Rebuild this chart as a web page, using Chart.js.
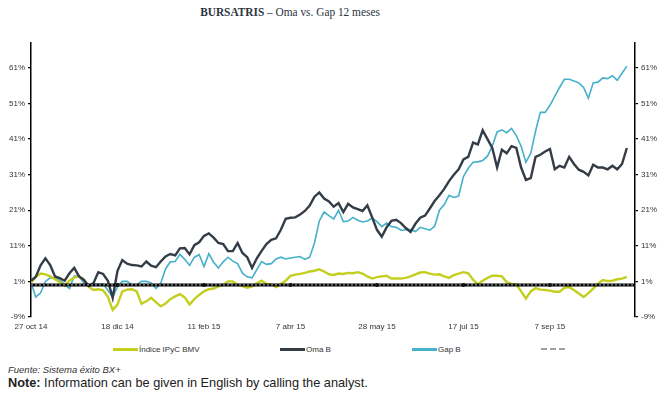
<!DOCTYPE html>
<html>
<head>
<meta charset="utf-8">
<script src="https://cdn.jsdelivr.net/npm/chart.js@4.4.1/dist/chart.umd.min.js"></script>
<style>
  html, body { margin:0; padding:0; background:#fff; }
  body { width:670px; height:397px; position:relative; overflow:hidden; font-family:"Liberation Sans", Arial, sans-serif; }
  #title { position:absolute; top:4px; left:0; width:580px; text-align:center; font-family:"Liberation Serif", "DejaVu Serif", serif; font-size:13.5px; color:#2a3340; transform:scaleX(0.84); transform-origin:290px 0; }
  #title b { font-weight:bold; }
  #wrap { position:absolute; left:0; top:0; width:670px; height:340px; }
  .leg { position:absolute; top:344px; font-size:8px; color:#333; display:flex; align-items:center; height:10px; }
  .sw { display:inline-block; width:25px; height:3px; margin-right:1px; }
  .dash { display:inline-block; width:24px; height:0; border-top:2px dashed #9aa0a6; }
  #src { position:absolute; left:8px; top:364px; font-size:9.5px; font-style:italic; color:#333; }
  #note { position:absolute; left:8px; top:375px; font-size:13px; color:#222; transform:scaleX(0.98); transform-origin:0 0; }
</style>
</head>
<body>
<div id="title"><b>BURSATRIS</b> – Oma vs. Gap 12 meses</div>
<div id="wrap"><canvas id="c" width="670" height="340"></canvas></div>
<div class="leg" style="left:113px"><span class="sw" style="background:#c3cf1f"></span>Índice IPyC BMV</div>
<div class="leg" style="left:280px"><span class="sw" style="background:#343c46"></span>Oma B</div>
<div class="leg" style="left:412px"><span class="sw" style="background:#45b0cb"></span>Gap B</div>
<div class="leg" style="left:541px"><span class="dash"></span></div>
<div id="src">Fuente: Sistema éxito BX+</div>
<div id="note"><b>Note:</b> Information can be given in English by calling the analyst.</div>
<script>
const dateLabels = ['27 oct 14','18 dic 14','11 feb 15','7 abr 15','28 may 15','17 jul 15','7 sep 15'];
const labelIndex = [0,18,36,54,72,90,108];
const yTicks = [-9,1,11,21,31,41,51,61];
const baseValue = 0;

const ipyc = [0.7,2.2,3.2,3.0,2.4,1.6,0.8,-0.2,1.2,2.1,
  2.4,1.6,-0.5,-1.4,-1.2,-1.5,-3.3,-7.0,-5.5,-1.8,
  -1.3,-1.2,-1.8,-5.3,-4.6,-3.6,-4.8,-6.0,-5.2,-4.0,
  -3.2,-2.6,-3.5,-5.5,-4.0,-2.8,-1.8,-1.2,-1.0,-0.4,
  0.0,1.0,1.0,0.0,-0.3,-0.8,-0.4,0.5,1.2,0.3,
  0.2,-0.6,0.3,1.2,2.6,2.9,3.1,3.4,3.8,4.0,
  4.4,3.8,3.0,2.8,3.2,3.1,3.4,3.3,3.6,3.2,
  2.4,1.8,2.2,2.4,2.6,1.8,1.8,1.8,2.0,2.4,
  3.0,3.5,3.6,3.2,2.9,3.0,2.4,2.0,2.8,3.2,
  3.6,3.3,1.5,0.2,1.2,2.0,2.6,2.6,2.4,0.8,
  0.3,0.2,-1.8,-3.8,-1.8,-0.9,-1.3,-1.4,-1.6,-1.9,
  -1.9,-0.8,-0.6,-1.4,-2.4,-3.4,-2.3,-1.0,0.4,1.4,
  1.1,1.2,1.6,1.8,2.3];

const oma = [1.2,2.3,5.5,7.5,5.6,2.4,1.9,1.2,3.3,4.8,
  2.4,1.4,-0.3,0.5,3.6,3.1,1.2,-3.6,4.0,7.0,
  6.0,5.6,5.5,5.2,6.6,5.4,5.0,6.6,8.0,8.7,
  8.3,10.3,10.4,8.6,11.2,12.0,13.8,14.5,13.3,11.8,
  11.5,9.5,9.5,11.8,9.0,7.8,4.8,7.5,9.6,11.5,
  12.7,13.1,15.5,18.6,18.9,19.0,19.8,20.8,22.3,24.8,
  26.0,24.3,23.5,22.0,23.0,20.5,22.8,21.8,21.3,20.8,
  22.4,19.0,15.5,13.6,16.2,18.0,18.3,17.4,16.0,14.9,
  17.2,18.9,19.5,21.5,23.6,25.2,27.0,29.2,31.0,32.5,
  35.3,36.0,40.0,39.5,43.5,41.0,38.5,33.0,38.0,37.0,
  39.0,38.5,33.0,29.5,30.0,36.0,36.6,37.5,38.2,32.5,
  33.5,33.0,36.0,34.0,32.4,31.8,30.8,33.8,33.0,33.0,
  32.5,33.5,32.5,34.0,38.5];

const gap = [0.7,-3.4,-2.2,1.0,2.0,2.0,1.3,0.2,-1.0,2.5,
  2.5,0.5,0.0,0.2,0.2,0.3,-1.5,-3.5,-0.5,1.0,
  1.0,0.0,0.0,1.0,1.0,0.6,-1.0,0.5,4.5,6.5,
  6.6,8.6,7.2,5.5,7.8,8.5,5.2,8.8,6.4,4.8,
  6.5,7.8,6.7,6.0,3.3,2.3,2.0,4.3,6.6,5.8,
  6.0,7.3,7.8,7.3,7.6,7.8,8.0,7.2,7.8,11.8,
  18.0,20.5,19.5,18.5,21.0,17.8,18.0,19.0,18.2,17.7,
  18.0,18.8,17.8,16.4,17.4,16.4,16.2,15.4,15.5,15.6,
  15.0,16.2,15.8,15.4,16.5,21.0,22.6,25.2,24.6,25.0,
  30.5,32.8,34.5,34.6,35.0,36.2,39.0,43.0,43.6,42.8,
  44.0,42.0,39.0,34.5,37.0,43.2,48.5,48.5,50.5,53.0,
  55.5,57.8,57.8,57.3,56.8,55.5,52.5,56.8,57.0,58.2,
  58.0,58.8,57.5,59.5,61.5];

const xMax = 125.7;
const toXY = arr => arr.map((v, i) => ({ x: i, y: v }));
const baseBlack = [{ x: 0, y: baseValue }, { x: xMax, y: baseValue }];
const baseDots = [0, ...labelIndex.slice(1), xMax].map(x => ({ x, y: baseValue }));
const dotRadius = baseDots.map((p, i) => (i === 0 || i === baseDots.length - 1) ? 0 : 2);

const tickFont = { family: "'Liberation Sans', Arial, sans-serif", size: 8 };

new Chart(document.getElementById('c'), {
  type: 'line',
  data: {
    datasets: [
      { label: 'Gap B', data: toXY(gap), borderColor: '#45b0cb', borderWidth: 1.6, pointRadius: 0, order: 4 },
      { label: 'Índice IPyC BMV', data: toXY(ipyc), borderColor: '#c3cf1f', borderWidth: 2.4, pointRadius: 0, order: 3 },
      { label: 'Oma B', data: toXY(oma), borderColor: '#343c46', borderWidth: 2.4, pointRadius: 0, order: 2 },
      { label: 'base', data: baseBlack, borderColor: '#000', borderWidth: 3, pointRadius: 0, order: 1 },
      { label: '', data: baseDots, borderColor: '#8e949a', borderWidth: 1.2, borderDash: [2, 2], pointRadius: dotRadius,
        pointBackgroundColor: '#111', pointBorderColor: '#111', pointBorderWidth: 0, order: 0 }
    ]
  },
  options: {
    responsive: false,
    animation: false,
    layout: { padding: { top: 43, left: 0, right: 0, bottom: 0 } },
    plugins: { legend: { display: false }, tooltip: { enabled: false }, title: { display: false } },
    scales: {
      x: {
        type: 'linear', min: 0, max: xMax,
        afterFit: s => { s.height = 23; },
        afterBuildTicks: s => { s.ticks = labelIndex.map(v => ({ value: v })); },
        grid: { display: false, drawTicks: false },
        border: { display: false },
        ticks: { font: tickFont, color: '#333', padding: 5, maxRotation: 0, autoSkip: false,
          callback: v => dateLabels[labelIndex.indexOf(v)] }
      },
      y: {
        position: 'left', min: -9, max: 68,
        afterFit: s => { s.width = 31; },
        afterBuildTicks: s => { s.ticks = yTicks.map(v => ({ value: v })); },
        grid: { drawOnChartArea: false, drawTicks: true, tickLength: 3, color: '#000', lineWidth: 1.2 },
        border: { display: true, color: '#000', width: 1.5 },
        ticks: { font: tickFont, color: '#333', padding: 3, callback: v => v + '%' }
      },
      y2: {
        position: 'right', min: -9, max: 68,
        afterFit: s => { s.width = 35; },
        afterBuildTicks: s => { s.ticks = yTicks.map(v => ({ value: v })); },
        grid: { drawOnChartArea: false, drawTicks: true, tickLength: 3, color: '#000', lineWidth: 1.2 },
        border: { display: true, color: '#000', width: 1.5 },
        ticks: { font: tickFont, color: '#333', padding: 3, callback: v => v + '%' }
      }
    }
  }
});
</script>
</body>
</html>
